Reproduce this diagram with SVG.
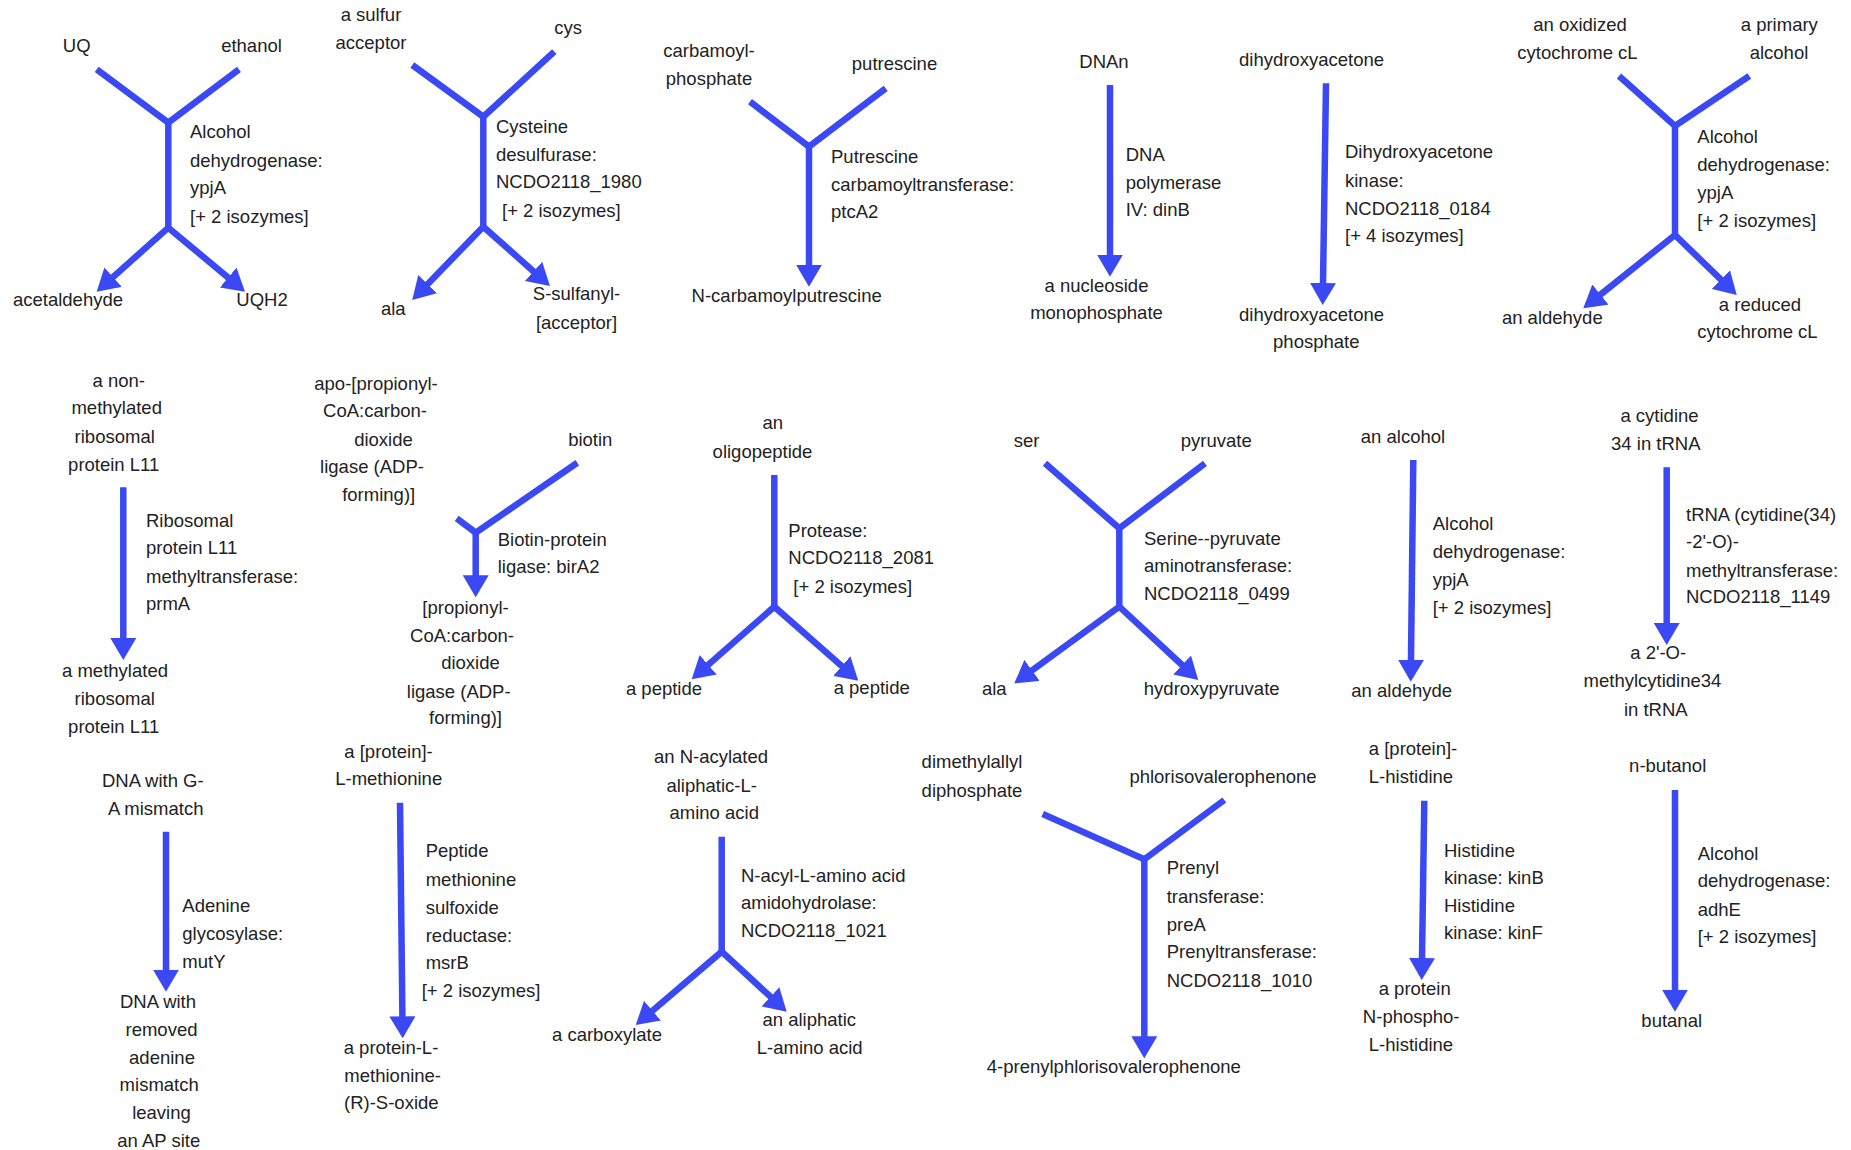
<svg xmlns="http://www.w3.org/2000/svg" width="1851" height="1150" viewBox="0 0 1851 1150">
<defs>
<style>
text{font-family:"Liberation Sans",Arial,Helvetica,sans-serif;font-size:18.5px;fill:#222}
.c{text-anchor:middle}
.ln{fill:none;stroke:#3a49f3;stroke-width:6.5;stroke-linecap:butt;stroke-linejoin:miter}
.ar{marker-end:url(#ah)}
.ar2{marker-start:url(#ah);marker-end:url(#ah)}
</style>
<marker id="ah" markerUnits="userSpaceOnUse" viewBox="0 0 22 26" markerWidth="22" markerHeight="26" refX="8" refY="13" orient="auto-start-reverse"><path d="M0,0 L22,13 L0,26 z" fill="#3a49f3"/></marker>
</defs>
<rect width="1851" height="1150" fill="#fff"/>
<g id="connectors">
<path class="ln" d="M96.7,69.3 L168.3,122.7 L239,69.3"/><path class="ln" d="M168.3,122.7 V227.7"/><path class="ln ar2" d="M107.1,282.4 L168.3,227.7 L234.3,282.7"/>
<path class="ln" d="M412.3,65 L483.3,116.7 L554.3,51.7"/><path class="ln" d="M483.3,116.7 V226.7"/><path class="ln ar2" d="M422,289.9 L483.3,226.7 L539.5,276.7"/>
<path class="ln" d="M750,101.7 L809,146.7 L885.7,88.3"/><path class="ln ar" d="M809,146.7 V272.7"/>
<path class="ln ar" d="M1110,85 V262.7"/>
<path class="ln ar" d="M1326,83.3 L1322.9,291"/>
<path class="ln" d="M1619,76 L1675,126 L1749.3,76"/><path class="ln" d="M1675,126 V235"/><path class="ln ar2" d="M1594.2,299.6 L1675,235 L1726.7,285.2"/>
<path class="ln ar" d="M123.3,487.3 V646"/>
<path class="ln" d="M456.7,518.3 L475.7,532.7 L577.3,462.7"/><path class="ln ar" d="M475.7,532.7 V583.3"/>
<path class="ln" d="M774.3,475 V606.7"/><path class="ln ar2" d="M702.2,670.1 L774.3,606.7 L847.8,671.4"/>
<path class="ln" d="M1045,463.3 L1119.3,528.3 L1205,463.3"/><path class="ln" d="M1119.3,528.3 V606.7"/><path class="ln ar2" d="M1025.6,675.1 L1119.3,606.7 L1188,670.5"/>
<path class="ln ar" d="M1413.3,460 L1410.9,667.7"/>
<path class="ln ar" d="M1666.7,467.3 V631"/>
<path class="ln ar" d="M166,831.7 V977.7"/>
<path class="ln ar" d="M400,802.7 L402.5,1024.3"/>
<path class="ln" d="M721.7,836.7 V951.7"/><path class="ln ar2" d="M646.4,1015.9 L721.7,951.7 L776.4,1002.2"/>
<path class="ln" d="M1042.7,814 L1144.3,859.3 L1224.3,800"/><path class="ln ar" d="M1144.3,859.3 V1044.3"/>
<path class="ln ar" d="M1424.3,800.7 L1421.9,966"/>
<path class="ln ar" d="M1675,790 V997.7"/>
</g>
<g id="n-uq"><text class="c" x="76.7" y="52">UQ</text></g>
<g id="n-ethanol"><text class="c" x="251.5" y="52">ethanol</text></g>
<g id="n-acetaldehyde"><text class="c" x="68" y="305.7">acetaldehyde</text></g>
<g id="n-uqh2"><text class="c" x="262" y="305.7">UQH2</text></g>
<g id="e-r1"><text><tspan x="190" y="138.3">Alcohol</tspan><tspan x="190" y="166.7">dehydrogenase:</tspan><tspan x="190" y="194.3">ypjA</tspan><tspan x="190" y="222.7">[+ 2 isozymes]</tspan></text></g>

<g id="n-sulfur-acceptor"><text class="c"><tspan x="371" y="21">a sulfur</tspan><tspan x="371" y="48.5">acceptor</tspan></text></g>
<g id="n-cys"><text class="c" x="568" y="34.3">cys</text></g>
<g id="n-ala1"><text class="c" x="393.3" y="315">ala</text></g>
<g id="n-s-sulfanyl"><text class="c"><tspan x="576.5" y="300">S-sulfanyl-</tspan><tspan x="576.5" y="329.3">[acceptor]</tspan></text></g>
<g id="e-r2"><text><tspan x="496" y="132.7">Cysteine</tspan><tspan x="496" y="161">desulfurase:</tspan><tspan x="496" y="188.3">NCDO2118_1980</tspan><tspan x="502" y="216.7">[+ 2 isozymes]</tspan></text></g>

<g id="n-carbamoyl-phosphate"><text class="c"><tspan x="709" y="56.7">carbamoyl-</tspan><tspan x="709" y="85">phosphate</tspan></text></g>
<g id="n-putrescine"><text class="c" x="894.5" y="70">putrescine</text></g>
<g id="n-ncp"><text class="c" x="786.7" y="301.7">N-carbamoylputrescine</text></g>
<g id="e-r3"><text><tspan x="831" y="162.7">Putrescine</tspan><tspan x="831" y="190.7">carbamoyltransferase:</tspan><tspan x="831" y="218.3">ptcA2</tspan></text></g>

<g id="n-dnan"><text class="c" x="1104" y="68.3">DNAn</text></g>
<g id="n-nmp"><text class="c"><tspan x="1096.5" y="292.3">a nucleoside</tspan><tspan x="1096.5" y="319.3">monophosphate</tspan></text></g>
<g id="e-r4"><text><tspan x="1125.7" y="160.7">DNA</tspan><tspan x="1125.7" y="189">polymerase</tspan><tspan x="1125.7" y="216">IV: dinB</tspan></text></g>

<g id="n-dha"><text class="c" x="1311.5" y="66">dihydroxyacetone</text></g>
<g id="n-dhap"><text class="c"><tspan x="1311.5" y="320.7">dihydroxyacetone</tspan><tspan x="1316.3" y="348.3">phosphate</tspan></text></g>
<g id="e-r5"><text><tspan x="1345" y="158.3">Dihydroxyacetone</tspan><tspan x="1345" y="186.7">kinase:</tspan><tspan x="1345" y="215">NCDO2118_0184</tspan><tspan x="1345" y="241.7">[+ 4 isozymes]</tspan></text></g>

<g id="n-ox-cyt"><text class="c"><tspan x="1580" y="30.7">an oxidized</tspan><tspan x="1577.5" y="59">cytochrome cL</tspan></text></g>
<g id="n-prim-alc"><text class="c"><tspan x="1779.3" y="30.7">a primary</tspan><tspan x="1779" y="59">alcohol</tspan></text></g>
<g id="n-aldehyde1"><text class="c" x="1552.3" y="324">an aldehyde</text></g>
<g id="n-red-cyt"><text class="c"><tspan x="1760" y="310.7">a reduced</tspan><tspan x="1757.5" y="337.7">cytochrome cL</tspan></text></g>
<g id="e-r6"><text><tspan x="1697.3" y="143.3">Alcohol</tspan><tspan x="1697.3" y="170.7">dehydrogenase:</tspan><tspan x="1697.3" y="199.3">ypjA</tspan><tspan x="1697.3" y="226.7">[+ 2 isozymes]</tspan></text></g>

<g id="n-nonmeth"><text class="c"><tspan x="118.8" y="386.7">a non-</tspan><tspan x="116.7" y="414">methylated</tspan><tspan x="114.7" y="442.7">ribosomal</tspan><tspan x="113.7" y="471">protein L11</tspan></text></g>
<g id="n-meth"><text class="c"><tspan x="115" y="676.7">a methylated</tspan><tspan x="114.7" y="705">ribosomal</tspan><tspan x="113.7" y="732.7">protein L11</tspan></text></g>
<g id="e-r7"><text><tspan x="146" y="526.7">Ribosomal</tspan><tspan x="146" y="554">protein L11</tspan><tspan x="146" y="582.7">methyltransferase:</tspan><tspan x="146" y="610">prmA</tspan></text></g>

<g id="n-apo"><text class="c"><tspan x="376" y="390">apo-[propionyl-</tspan><tspan x="375" y="417.3">CoA:carbon-</tspan><tspan x="383.5" y="446">dioxide</tspan><tspan x="372" y="473.3">ligase (ADP-</tspan><tspan x="378.7" y="501">forming)]</tspan></text></g>
<g id="n-biotin"><text class="c" x="590.3" y="445.7">biotin</text></g>
<g id="n-holo"><text class="c"><tspan x="465.5" y="614">[propionyl-</tspan><tspan x="462" y="641.7">CoA:carbon-</tspan><tspan x="470.5" y="669.3">dioxide</tspan><tspan x="458.7" y="697.7">ligase (ADP-</tspan><tspan x="465.5" y="724.3">forming)]</tspan></text></g>
<g id="e-r8"><text><tspan x="497.7" y="545.7">Biotin-protein</tspan><tspan x="497.7" y="573.3">ligase: birA2</tspan></text></g>

<g id="n-oligo"><text class="c"><tspan x="772.7" y="429.3">an</tspan><tspan x="762.5" y="457.7">oligopeptide</tspan></text></g>
<g id="n-pep1"><text class="c" x="664" y="695">a peptide</text></g>
<g id="n-pep2"><text class="c" x="871.7" y="694.3">a peptide</text></g>
<g id="e-r9"><text><tspan x="788.3" y="536.7">Protease:</tspan><tspan x="788.3" y="564">NCDO2118_2081</tspan><tspan x="793.3" y="592.7">[+ 2 isozymes]</tspan></text></g>

<g id="n-ser"><text class="c" x="1026.5" y="447.3">ser</text></g>
<g id="n-pyruvate"><text class="c" x="1216.3" y="447.3">pyruvate</text></g>
<g id="n-ala2"><text class="c" x="994.3" y="695">ala</text></g>
<g id="n-hydroxypyruvate"><text class="c" x="1211.7" y="695">hydroxypyruvate</text></g>
<g id="e-r10"><text><tspan x="1144" y="545">Serine--pyruvate</tspan><tspan x="1144" y="572.3">aminotransferase:</tspan><tspan x="1144" y="600">NCDO2118_0499</tspan></text></g>

<g id="n-alcohol"><text class="c" x="1403" y="443.3">an alcohol</text></g>
<g id="n-aldehyde2"><text class="c" x="1401.7" y="696.7">an aldehyde</text></g>
<g id="e-r11"><text><tspan x="1432.7" y="530">Alcohol</tspan><tspan x="1432.7" y="558.3">dehydrogenase:</tspan><tspan x="1432.7" y="586">ypjA</tspan><tspan x="1432.7" y="614">[+ 2 isozymes]</tspan></text></g>

<g id="n-cyt34"><text class="c"><tspan x="1659.5" y="421.7">a cytidine</tspan><tspan x="1655.8" y="450">34 in tRNA</tspan></text></g>
<g id="n-mc34"><text class="c"><tspan x="1658.2" y="659">a 2'-O-</tspan><tspan x="1652.5" y="687.3">methylcytidine34</tspan><tspan x="1655.8" y="715.7">in tRNA</tspan></text></g>
<g id="e-r12"><text><tspan x="1686" y="520.7">tRNA (cytidine(34)</tspan><tspan x="1686" y="548.3">-2'-O)-</tspan><tspan x="1686" y="576.7">methyltransferase:</tspan><tspan x="1686" y="603.3">NCDO2118_1149</tspan></text></g>

<g id="n-dna-ga"><text class="c"><tspan x="152.8" y="787.3">DNA with G-</tspan><tspan x="155.7" y="815">A mismatch</tspan></text></g>
<g id="n-dna-ap"><text class="c"><tspan x="158" y="1007.7">DNA with</tspan><tspan x="161.5" y="1035.7">removed</tspan><tspan x="162" y="1064">adenine</tspan><tspan x="159.2" y="1091">mismatch</tspan><tspan x="161.5" y="1119.3">leaving</tspan><tspan x="158.8" y="1146.7">an AP site</tspan></text></g>
<g id="e-r13"><text><tspan x="182.3" y="912.3">Adenine</tspan><tspan x="182.3" y="940">glycosylase:</tspan><tspan x="182.3" y="968.3">mutY</tspan></text></g>

<g id="n-prot-met"><text class="c"><tspan x="388.5" y="758.3">a [protein]-</tspan><tspan x="388.7" y="785">L-methionine</tspan></text></g>
<g id="n-met-so"><text class="c"><tspan x="391" y="1054">a protein-L-</tspan><tspan x="392.7" y="1082.3">methionine-</tspan><tspan x="391.3" y="1109.3">(R)-S-oxide</tspan></text></g>
<g id="e-r14"><text><tspan x="425.7" y="857.3">Peptide</tspan><tspan x="425.7" y="885.7">methionine</tspan><tspan x="425.7" y="914">sulfoxide</tspan><tspan x="425.7" y="941.7">reductase:</tspan><tspan x="425.7" y="969.3">msrB</tspan><tspan x="421.7" y="996.7">[+ 2 isozymes]</tspan></text></g>

<g id="n-nacyl"><text class="c"><tspan x="711" y="763.3">an N-acylated</tspan><tspan x="711.7" y="791.7">aliphatic-L-</tspan><tspan x="714.2" y="819">amino acid</tspan></text></g>
<g id="n-carboxylate"><text class="c" x="607" y="1040.7">a carboxylate</text></g>
<g id="n-aliph"><text class="c"><tspan x="809.3" y="1026">an aliphatic</tspan><tspan x="809.7" y="1054">L-amino acid</tspan></text></g>
<g id="e-r15"><text><tspan x="741" y="881.7">N-acyl-L-amino acid</tspan><tspan x="741" y="909">amidohydrolase:</tspan><tspan x="741" y="936.7">NCDO2118_1021</tspan></text></g>

<g id="n-dmapp"><text class="c"><tspan x="972" y="768.3">dimethylallyl</tspan><tspan x="972" y="796.7">diphosphate</tspan></text></g>
<g id="n-phloriso"><text class="c" x="1223" y="782.7">phlorisovalerophenone</text></g>
<g id="n-prenylphlor"><text class="c" x="1113.8" y="1073.3">4-prenylphlorisovalerophenone</text></g>
<g id="e-r16"><text><tspan x="1166.7" y="874.3">Prenyl</tspan><tspan x="1166.7" y="902.7">transferase:</tspan><tspan x="1166.7" y="931">preA</tspan><tspan x="1166.7" y="958.3">Prenyltransferase:</tspan><tspan x="1166.7" y="986.7">NCDO2118_1010</tspan></text></g>

<g id="n-prot-his"><text class="c"><tspan x="1413" y="755">a [protein]-</tspan><tspan x="1411" y="783.3">L-histidine</tspan></text></g>
<g id="n-phospho-his"><text class="c"><tspan x="1414.7" y="995">a protein</tspan><tspan x="1411.2" y="1023.3">N-phospho-</tspan><tspan x="1411" y="1050.7">L-histidine</tspan></text></g>
<g id="e-r17"><text><tspan x="1444" y="856.7">Histidine</tspan><tspan x="1444" y="884">kinase: kinB</tspan><tspan x="1444" y="911.7">Histidine</tspan><tspan x="1444" y="939">kinase: kinF</tspan></text></g>

<g id="n-butanol"><text class="c" x="1667.7" y="772.3">n-butanol</text></g>
<g id="n-butanal"><text class="c" x="1671.7" y="1027.3">butanal</text></g>
<g id="e-r18"><text><tspan x="1697.7" y="860">Alcohol</tspan><tspan x="1697.7" y="887.3">dehydrogenase:</tspan><tspan x="1697.7" y="915.7">adhE</tspan><tspan x="1697.7" y="943.3">[+ 2 isozymes]</tspan></text></g>
</svg>
